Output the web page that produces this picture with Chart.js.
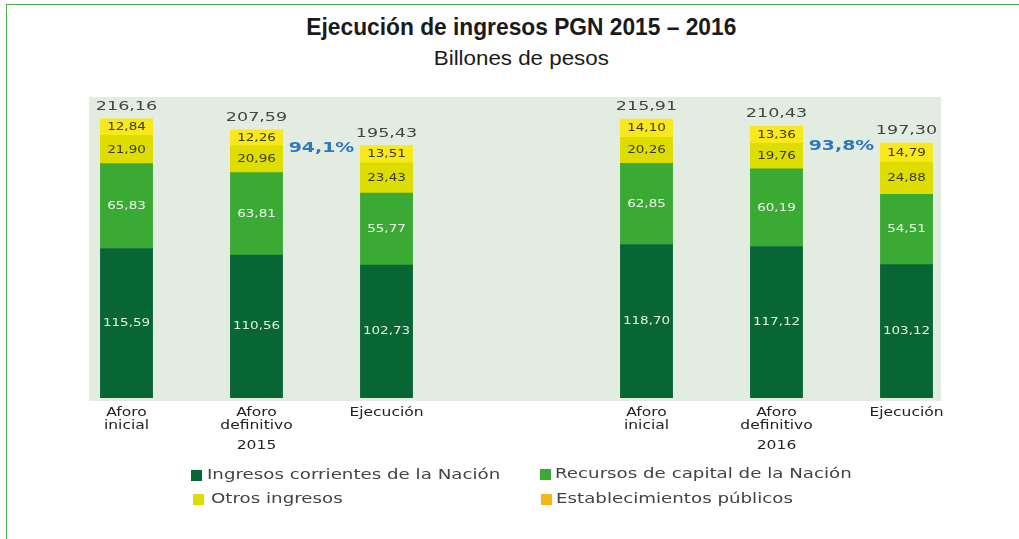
<!DOCTYPE html>
<html><head><meta charset="utf-8">
<script src="https://cdn.jsdelivr.net/npm/chart.js@4.4.1/dist/chart.umd.min.js"></script>
<style>
html,body{margin:0;padding:0;background:#fff;width:1019px;height:539px;overflow:hidden;}
#wrap{position:relative;width:1019px;height:539px;}
#frame{position:absolute;left:6px;top:4px;width:1100px;height:600px;border-top:1px solid #4cae50;border-left:1px solid #4cae50;}
canvas{position:absolute;left:0;top:0;}
.t{position:absolute;left:0;width:1043px;text-align:center;font-family:'Liberation Sans',Arial,sans-serif;color:#1a1a1a;white-space:nowrap;line-height:1;}
.t span{display:inline-block;transform-origin:50% 50%;}
#title{top:16px;font-size:23px;font-weight:bold;}
#sub{top:47px;font-size:21px;}
</style></head>
<body><div id="wrap"><div id="frame"></div>
<div class="t" id="title"><span data-w="430">Ejecución de ingresos PGN 2015 – 2016</span></div>
<div class="t" id="sub"><span data-w="175">Billones de pesos</span></div>
<canvas id="c" width="1019" height="539"></canvas></div>
<script>
// ---- data ----
const years = ['2015', '2016'];
const categories = [['Aforo', 'inicial'], ['Aforo', 'definitivo'], ['Ejecución']];
const seriesNames = ['Ingresos corrientes de la Nación', 'Recursos de capital de la Nación', 'Otros ingresos', 'Establecimientos públicos'];
const ingresosCorrientes = [115.59, 110.56, 102.73, 118.70, 117.12, 103.12];
const recursosCapital = [65.83, 63.81, 55.77, 62.85, 60.19, 54.51];
const otrosIngresos = [21.90, 20.96, 23.43, 20.26, 19.76, 24.88];
const establecimientos = [12.84, 12.26, 13.51, 14.10, 13.36, 14.79];
const totals = [216.16, 207.59, 195.43, 215.91, 210.43, 197.30];
const execPct = ['94,1%', '93,8%'];

// condensed title look: fit the title texts to the reference widths
document.querySelectorAll('.t span').forEach(s => {
  s.style.transform = 'scaleX(' + (Number(s.dataset.w) / s.getBoundingClientRect().width) + ')';
});

// ---- style ----
const SX = 1.35; // horizontal stretch of the drawing (reference is stretched)
const barColors = ['#086634', '#3aaa35', '#dedd00', '#f8e81c'];
const legendColors = ['#086634', '#3aaa35', '#dedd00', '#f6b613'];
const labelColors = ['#e4eee4', '#f2f6f0', '#3a3a2a', '#3a3a2a'];
const fmt = v => v.toFixed(2).replace('.', ',');
const GROUP = categories.length + 1;
const xOf = i => Math.floor(i / categories.length) * GROUP + (i % categories.length);
const barPositions = totals.map((t, i) => xOf(i));

const seriesValues = [ingresosCorrientes, recursosCapital, otrosIngresos, establecimientos];
const datasets = seriesValues.map((vals, d) => ({
  label: seriesNames[d],
  data: vals.map((v, i) => ({ x: xOf(i), y: v })),
  backgroundColor: barColors[d],
  borderWidth: 0,
  barThickness: 52 / SX,
  xAxisID: 'x', yAxisID: 'y'
}));

const stretch = {
  id: 'stretch',
  beforeDraw(chart) {
    const { ctx, chartArea: a } = chart;
    ctx.save();
    ctx.scale(SX, 1);
    ctx.fillStyle = '#e2ece0';
    ctx.fillRect(a.left, a.top, a.right - a.left, a.bottom - a.top);
  },
  afterDatasetsDraw(chart) {
    const ctx = chart.ctx;
    ctx.save();
    ctx.textAlign = 'center';
    ctx.textBaseline = 'middle';
    chart.data.datasets.forEach((ds, di) => {
      const meta = chart.getDatasetMeta(di);
      meta.data.forEach((bar, i) => {
        ctx.fillStyle = labelColors[di];
        ctx.font = '10px "DejaVu Sans"';
        ctx.fillText(fmt(ds.data[i].y), bar.x, (bar.y + bar.base) / 2 + 0.5);
      });
    });
    const top = chart.getDatasetMeta(chart.data.datasets.length - 1).data;
    ctx.fillStyle = '#444';
    ctx.font = '13px "DejaVu Sans"';
    top.forEach((bar, i) => ctx.fillText(fmt(totals[i]), bar.x, bar.y - 12));
    ctx.fillStyle = '#2f78bd';
    ctx.font = 'bold 14px "DejaVu Sans"';
    execPct.forEach((p, g) => {
      const b1 = top[g * categories.length + 1], b2 = top[g * categories.length + 2];
      ctx.fillText(p, (b1.x + b2.x) / 2, b2.y + 3);
    });
    ctx.restore();
  },
  afterDraw(chart) {
    const ctx = chart.ctx;
    ctx.save();
    ctx.textAlign = 'left';
    ctx.textBaseline = 'middle';
    ctx.font = '13.5px "DejaVu Sans"';
    const items = [
      { sq: 191, tx: 207, y: 475 }, { sq: 540, tx: 555, y: 474 },
      { sq: 193, tx: 211, y: 499 }, { sq: 541, tx: 556, y: 499 }
    ];
    items.forEach((it, d) => {
      ctx.fillStyle = legendColors[d];
      ctx.fillRect(it.sq / SX, it.y - 5, 11 / SX, 11);
      ctx.fillStyle = '#444';
      ctx.fillText(seriesNames[d], it.tx / SX, it.y + 0.5);
    });
    ctx.restore();
    ctx.restore();
  }
};

const xMin = (89 - 126.5) / 130, xMax = (941 - 126.5) / 130;
new Chart(document.getElementById('c'), {
  type: 'bar',
  data: { datasets },
  options: {
    responsive: false,
    animation: false,
    devicePixelRatio: 1,
    layout: { padding: { left: 89 / SX, right: 1019 - 941 / SX, top: 97, bottom: 82 } },
    plugins: { legend: { display: false }, tooltip: { enabled: false } },
    scales: {
      x: {
        type: 'linear', stacked: true, offset: false, min: xMin, max: xMax, weight: 0,
        grid: { display: false, drawTicks: false }, border: { display: false },
        afterBuildTicks: s => { s.ticks = barPositions.map(v => ({ value: v })); },
        afterFit: s => { s.height = 34; },
        ticks: {
          autoSkip: false, maxRotation: 0, padding: 6, color: '#222',
          font: { family: 'DejaVu Sans', size: 11.5, lineHeight: 1.13 },
          callback: v => categories[v % GROUP]
        }
      },
      x2: {
        type: 'linear', position: 'bottom', offset: false, min: xMin, max: xMax, weight: 1,
        grid: { display: false, drawTicks: false }, border: { display: false },
        afterBuildTicks: s => { s.ticks = years.map((y, g) => ({ value: g * GROUP + 1 })); },
        afterFit: s => { s.height = 22; },
        ticks: {
          autoSkip: false, maxRotation: 0, padding: 4, color: '#222',
          font: { family: 'DejaVu Sans', size: 11.5 },
          callback: v => years[Math.floor(v / GROUP)]
        }
      },
      y: { stacked: true, display: false, min: -2.64, max: 233 }
    }
  },
  plugins: [stretch]
});
</script>
</body></html>
